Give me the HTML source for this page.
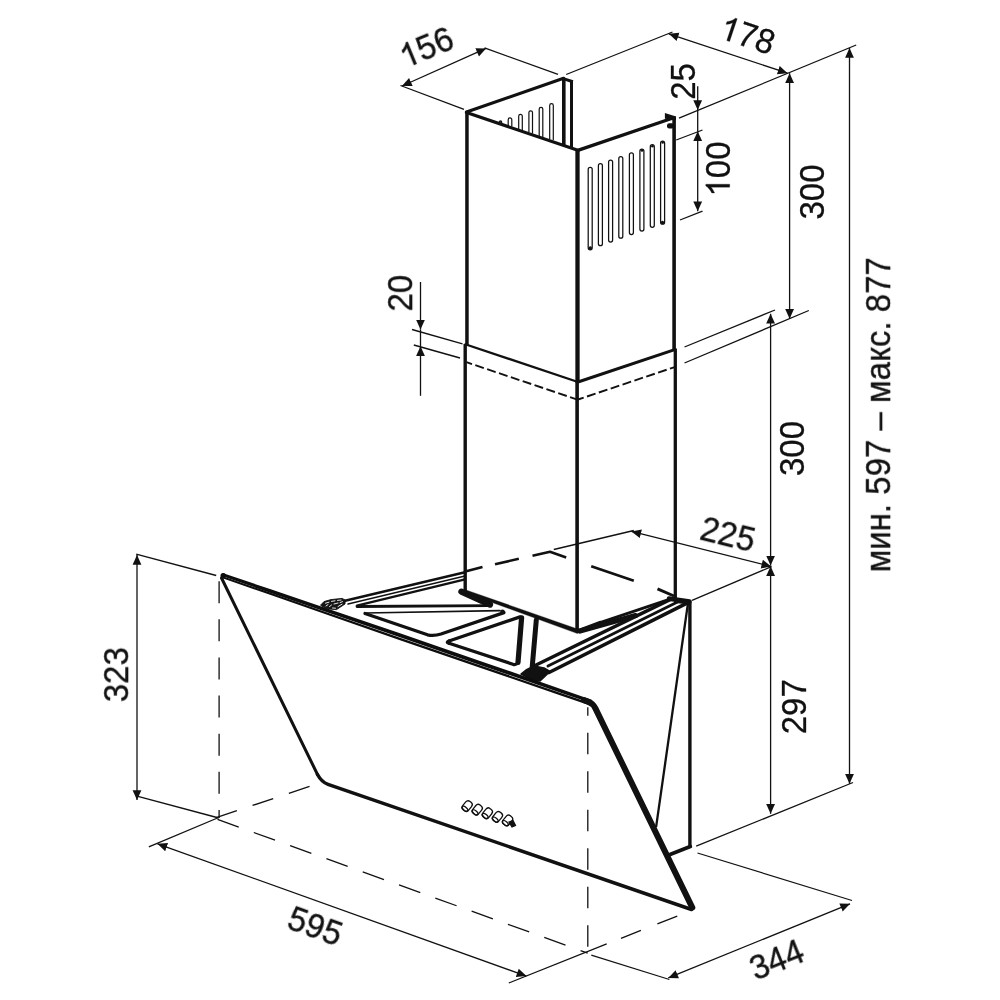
<!DOCTYPE html>
<html><head><meta charset="utf-8">
<style>
html,body{margin:0;padding:0;background:#fff;}
body{width:1000px;height:1000px;overflow:hidden;}
svg{display:block;}
text{font-family:"Liberation Sans",sans-serif;font-size:33px;fill:#111;stroke:#111;stroke-width:0.3px;}
</style></head><body>
<svg width="1000" height="1000" viewBox="0 0 1000 1000">
<defs>
<marker id="ae" markerUnits="userSpaceOnUse" markerWidth="12" markerHeight="12" refX="10" refY="4" viewBox="0 -1 12 12" orient="auto"><path d="M0.3,-0.4 L10,4 L0.3,8.4 Z" fill="#111"/></marker>
<marker id="as" markerUnits="userSpaceOnUse" markerWidth="12" markerHeight="12" refX="10" refY="4" viewBox="0 -1 12 12" orient="auto-start-reverse"><path d="M0.3,-0.4 L10,4 L0.3,8.4 Z" fill="#111"/></marker>
</defs>
<rect width="1000" height="1000" fill="#fff"/>

<!-- ===== thin extension lines ===== -->
<g id="ext" stroke="#111" stroke-width="1.3" fill="none" stroke-linecap="butt">
<path d="M400.5,85.5 L464,109.4"/>
<path d="M484.5,47.9 L558,74.4"/>
<path d="M566.2,74.5 L672.5,32"/>
<path d="M679,118.2 L856.2,45"/>
<path d="M676.2,140 L702.5,130"/>
<path d="M680,220 L702.5,211.2"/>
<path d="M684.5,347 L775,310"/>
<path d="M684.5,363 L808.8,310.5"/>
<path d="M412,329.5 L462.5,343.8"/>
<path d="M413.8,345 L460,358"/>
<path d="M136.2,554.2 L216.2,575.5"/>
<path d="M137,796.2 L218.8,818"/>
<path d="M148.8,846.8 L217.5,818"/>
<path d="M508.8,983 L606.7,943.8"/>
<path d="M591.3,955.2 L669.4,979.5"/>
<path d="M696.2,846.2 L853,782.5"/>
<path d="M697.5,853 L852,900.5"/>
<path d="M692,600.3 L771.5,566.6"/>
<path d="M553.8,549.5 L633.8,530.5"/>
</g>

<!-- ===== dimension lines with arrows ===== -->
<g id="dim" stroke="#111" stroke-width="1.3" fill="none">
<path d="M402,86 L486,48.4" marker-start="url(#as)" marker-end="url(#ae)"/>
<path d="M668.8,33.8 L787.5,73.2" marker-start="url(#as)" marker-end="url(#ae)"/>
<path d="M697.7,86.2 L697.7,110" marker-end="url(#ae)"/>
<path d="M697.7,110 L697.7,131.2"/>
<path d="M697.7,131.2 L697.7,211.2" marker-start="url(#as)" marker-end="url(#ae)"/>
<path d="M789.6,73.2 L789.6,318.8" marker-start="url(#as)" marker-end="url(#ae)"/>
<path d="M770.6,313.8 L770.6,565.5" marker-start="url(#as)" marker-end="url(#ae)"/>
<path d="M770.6,566.2 L770.6,813.8" marker-start="url(#as)" marker-end="url(#ae)"/>
<path d="M849.5,48 L849.5,783.8" marker-start="url(#as)" marker-end="url(#ae)"/>
<path d="M420.5,282 L420.5,329.5" marker-end="url(#ae)"/>
<path d="M420.5,329.5 L420.5,346.2"/>
<path d="M420.5,346.2 L420.5,395.8" marker-start="url(#as)"/>
<path d="M137,555 L137,800" marker-start="url(#as)" marker-end="url(#ae)"/>
<path d="M157.5,843.8 L526.4,976.1" marker-start="url(#as)" marker-end="url(#ae)"/>
<path d="M668.3,977.9 L850,903.8" marker-start="url(#as)" marker-end="url(#ae)"/>
<path d="M631.4,531.4 L771.2,566.5" marker-start="url(#as)" marker-end="url(#ae)"/>
</g>

<!-- ===== thin hidden dashed lines ===== -->
<g id="hid" stroke="#111" stroke-width="1.3" fill="none">
<path d="M219.1,581.2 L219.1,818" stroke-dasharray="22 16.13"/>
<path d="M217.5,819.4 L587.7,953.1" stroke-dasharray="22.6 16"/>
<path d="M216.2,817.6 L310.5,786.1" stroke-dasharray="21.8 16.5"/>
<path d="M587.8,707.2 L587.8,947" stroke-dasharray="21.5 17" stroke-dashoffset="13"/>
<path d="M621,938.3 L678,915.8" stroke-dasharray="21.4 17.7"/>
</g>

<!-- ===== chimney ===== -->
<g id="chimney" stroke="#111" fill="none" stroke-linecap="butt" stroke-linejoin="miter">
<!-- inner back-left slots -->
<g stroke-width="1.2" >
<path d="M549.7,139 L549.7,105.4 A1.8,1.8 0 0 1 553.3,105.4 L553.3,140"/>
<path d="M539.2,136 L539.2,109.1 A1.8,1.8 0 0 1 542.8,109.1 L542.8,137"/>
<path d="M528.9,132 L528.9,112.6 A1.8,1.8 0 0 1 532.5,112.6 L532.5,133.5"/>
<path d="M518.7,129 L518.7,116.2 A1.8,1.8 0 0 1 522.3,116.2 L522.3,130"/>
<path d="M508.2,125.5 L508.2,119.7 A1.8,1.8 0 0 1 511.8,119.7 L511.8,126.5"/>
<path d="M499.5,123 L499.5,122 A1,1 0 0 1 501.5,122 L501.5,123.5" stroke-width="1.5"/>
</g>
<path d="M563.8,78.3 L563.8,145.5" stroke-width="3.6"/>
<path d="M571.5,81 L571.5,148.5" stroke-width="3"/>
<path d="M563.2,78.6 L572.9,81.7" stroke-width="3"/>
<path d="M466.5,112 L563.6,78.3" stroke-width="3.2" stroke-linecap="round"/>
<path d="M466.5,112.5 L577.8,150.3" stroke-width="3.2" stroke-linecap="round"/>
<path d="M577.8,150.3 L673,118" stroke-width="3.4" stroke-linecap="round"/>
<path d="M664.9,113 L676,116.4 L676,120 L664.9,118.8 Z" fill="#111" stroke="none"/>
<rect x="667" y="123.3" width="7" height="5.2" rx="2.2" fill="#111" stroke="none"/>
<path d="M466.95,112 L466.95,345.5" stroke-width="3.5"/>
<path d="M465.2,344 L465.2,592" stroke-width="3.4"/>
<path d="M577.5,150 L577.5,382.5" stroke-width="4.3"/>
<path d="M577.1,381 L577.1,630.5" stroke-width="3.6"/>
<path d="M674.1,116.5 L674.1,350" stroke-width="3.6"/>
<path d="M675.3,348.5 L675.3,598.5" stroke-width="3.3"/>
<!-- joint -->
<path d="M464.5,344 L578,382" stroke-width="2.3"/>
<path d="M578,382 L675.5,349.3" stroke-width="3"/>
<path d="M466.5,362.2 L578,399.8" stroke-width="1.9" stroke-dasharray="9 3.5" stroke-dashoffset="3.2"/>
<path d="M578,399.5 L675.5,366.8" stroke-width="1.9" stroke-dasharray="9 3.5" stroke-dashoffset="3"/>
</g>

<!-- right face slots -->
<g id="slots" stroke="#111" stroke-width="1.25" fill="none">
<rect x="588.2" y="167.3" width="4" height="82.5" rx="2"/>
<rect x="598.4" y="163.7" width="4" height="82" rx="2"/>
<rect x="608.6" y="160" width="4" height="82" rx="2"/>
<rect x="618.8" y="156.5" width="4" height="81.7" rx="2"/>
<rect x="629.4" y="152.8" width="4" height="81.7" rx="2"/>
<rect x="639.9" y="149" width="4" height="82" rx="2"/>
<rect x="650.3" y="144.7" width="4" height="82.6" rx="2"/>
<rect x="660.6" y="141" width="4" height="83.2" rx="2"/>
<circle cx="590.3" cy="248" r="1.7" fill="#111" stroke="none"/>
<circle cx="662.5" cy="222.5" r="1.7" fill="#111" stroke="none"/>
<circle cx="642" cy="150.5" r="1.3" fill="#111" stroke="none"/>
<circle cx="652.4" cy="146.2" r="1.3" fill="#111" stroke="none"/>
<circle cx="662.7" cy="142.5" r="1.3" fill="#111" stroke="none"/>
</g>

<!-- ===== hood body ===== -->
<g id="body" stroke="#111" fill="none" stroke-linecap="round" stroke-linejoin="round">
<!-- hidden dashed outline through chimney -->
<g stroke-width="2.6" stroke-linecap="butt">
<path d="M466.2,571.2 L482.5,567"/>
<path d="M495,564.2 L518.8,558.8"/>
<path d="M532.5,555.8 L550,551.8 L566.2,557.5"/>
<path d="M591.2,566.2 L633.8,580.8"/>
<path d="M657.5,588.8 L674,596" stroke-width="3"/>
</g>
<!-- back edge rails -->
<path d="M345,600.8 L465,572.2" stroke-width="2.6"/>
<path d="M348,604 L465,576" stroke-width="1.4"/>
<path d="M357,605.6 L465,579.4" stroke-width="2.4"/>
<!-- shape A bottom -->
<path d="M357,606.5 L489,605.7" stroke-width="2.8"/>
<!-- shape B -->
<path d="M365,613 L500,610.6" stroke-width="1.6"/>
<path d="M504,612.6 L441,634 Q434,636.2 427.5,634.8 L365,613.5" stroke-width="3.3"/>
<circle cx="502.5" cy="611.8" r="2.3" fill="#111" stroke="none"/>
<!-- shape C -->
<path d="M449,641 L520,616.9" stroke-width="3.3"/>
<path d="M521.6,617.8 L518,662.5" stroke-width="5.2"/>
<path d="M449,643.3 L513,664.3 Q516.5,665.3 518,662.5" stroke-width="3.3"/>
<path d="M449,641 Q445.5,642.2 449,643.3" stroke-width="3.3"/>
<!-- rib -->
<path d="M536.3,620 L532.2,667" stroke-width="5"/>
<!-- chimney bottom edges -->
<path d="M461.4,591.6 L490,604.6" stroke-width="6.2"/>
<path d="M465.01,592.67 L576.76,633.37 L578.24,629.23 L465.99,589.93 Z" fill="#111" stroke-width="0.3"/>
<circle cx="577.5" cy="631.3" r="2.1" fill="#111" stroke="none"/>
<path d="M577.5,631.3 L600,622.6" stroke-width="3.6"/>
<path d="M600,622.6 L674.5,597.6" stroke-width="2.8"/>
<path d="M580,631 L635.5,615.6" stroke-width="5.2"/>
<!-- right rails -->
<path d="M534,666 L670,599.6" stroke-width="3.4"/>
<path d="M548,666 L678,601.8" stroke-width="2.9"/>
<path d="M549,672.5 L688,602.6" stroke-width="3.6"/>
<path d="M521,674 L526,670 L534,666 L544,668 L550,671.5 L540,681 L533,680 Z" fill="#111" stroke-width="1.5"/>
<path d="M669,598.6 L689.5,601.6" stroke-width="4.6"/>
<path d="M676,601 L689,602.5" stroke-width="4"/>
<!-- body right -->
<path d="M689.9,601.5 L689.9,847" stroke-width="3.4" stroke-linecap="butt"/>
<path d="M690.3,846.6 L670,854.6" stroke-width="3.8"/>
<path d="M688,603 L656.2,826.4" stroke-width="2.3"/>
</g>

<!-- ===== glass ===== -->
<g id="glass" stroke="#111" fill="none" stroke-linejoin="round" stroke-linecap="round">
<path d="M222.50,572.88 L270.00,589.11 L330.00,609.44 L400.00,633.17 L480.00,660.89 L560.00,688.67 L591.50,699.68 L591.50,703.28 L560.00,692.47 L480.00,664.94 L400.00,637.32 L330.00,613.34 L270.00,592.71 L222.50,576.28 Z" fill="#0d0d0d" stroke="none"/>
<path d="M222.50,576.18 L270.00,592.61 L330.00,613.44 L400.00,637.77 L480.00,665.29 L560.00,692.77 L591.50,703.58 L591.50,705.88 L560.00,695.17 L480.00,667.79 L400.00,640.37 L330.00,615.84 L270.00,594.81 L222.50,578.28 Z" fill="#0d0d0d" stroke="none"/>
<circle cx="223.2" cy="575.7" r="2.7" fill="#0d0d0d" stroke="none"/>
<path d="M584,700.2 L588,701.6 Q593,703.4 595.4,708.4 L692.3,907.6" stroke-width="6"/>
<path d="M691.5,909.5 L328,784.3 Q321.5,782 317.5,774.5" stroke-width="3.5"/>
<path d="M317.5,774.5 L221.5,578" stroke-width="3"/>
</g>

<!-- hinge -->
<g id="hinge" stroke="#111" stroke-width="0.9" fill="none">
<path d="M320.5,605.2 L324,601.6 L331,599.6 L342,598.4 L345.2,600 L345,604 L336.5,609.6 L326,608.8 Z" fill="#151515" stroke-linejoin="round"/>
<g stroke="#fff" stroke-width="0.9" stroke-linecap="round">
<path d="M325.5,603.2 L329,602.2 M331.5,601.4 L335,600.8 M337.5,600.4 L341,600 M326,606 L328,604.6 M329.5,606.6 L331.5,605 M334,604 L338,603 M340,602.6 L342.5,601.6 M332.5,608 L335.5,608.2 M338,606.5 L342,604.2"/>
</g>
</g>

<!-- buttons -->
<g id="btn" stroke="#111" stroke-width="1.3" fill="#fff">
<g transform="translate(467.2,806) rotate(-51)"><rect x="-5.3" y="-3.7" width="10.6" height="7.4" rx="3"/><ellipse cx="-3.6" cy="0" rx="1.8" ry="3.5" fill="none"/></g>
<g transform="translate(477.3,809.6) rotate(-51)"><rect x="-5.3" y="-3.7" width="10.6" height="7.4" rx="3"/><ellipse cx="-3.6" cy="0" rx="1.8" ry="3.5" fill="none"/></g>
<g transform="translate(487.4,813.2) rotate(-51)"><rect x="-5.3" y="-3.7" width="10.6" height="7.4" rx="3"/><ellipse cx="-3.6" cy="0" rx="1.8" ry="3.5" fill="none"/></g>
<g transform="translate(497.5,816.8) rotate(-51)"><rect x="-5.3" y="-3.7" width="10.6" height="7.4" rx="3"/><ellipse cx="-3.6" cy="0" rx="1.8" ry="3.5" fill="none"/></g>
<g transform="translate(507.6,820.4) rotate(-51)"><rect x="-5.3" y="-3.7" width="10.6" height="7.4" rx="3"/><ellipse cx="-3.6" cy="0" rx="1.8" ry="3.5" fill="none"/></g>
<path d="M509,822 L513,820.5 L515.5,825.5 L512,827 Z" fill="#111"/>
</g>

<!-- ===== text ===== -->
<g id="txt" text-anchor="middle" style="opacity:0.999">
<g transform="translate(430.8,58.1) rotate(-22.4)"><path transform="translate(-27.6,0) scale(0.01625,-0.01625)" d="M763 0H583V1147Q518 1085 412.5 1023T223 930V1104Q374 1175 487 1276T647 1472H763Z" fill="#111" stroke="#111" stroke-width="18"/><text x="-9.2" text-anchor="start" transform="scale(1,1.045)">56</text></g>
<g transform="translate(744,46.3) rotate(18.5)"><path transform="translate(-27.6,0) scale(0.01625,-0.01625)" d="M763 0H583V1147Q518 1085 412.5 1023T223 930V1104Q374 1175 487 1276T647 1472H763Z" fill="#111" stroke="#111" stroke-width="18"/><text x="-9.2" text-anchor="start" transform="scale(1,1.045)">78</text></g>
<text transform="translate(694.8,81.4) rotate(-90) scale(1,1.045)">25</text>
<g transform="translate(729.7,169) rotate(-90)"><path transform="translate(-27.6,0) scale(0.01625,-0.01625)" d="M763 0H583V1147Q518 1085 412.5 1023T223 930V1104Q374 1175 487 1276T647 1472H763Z" fill="#111" stroke="#111" stroke-width="18"/><text x="-9.2" text-anchor="start" transform="scale(1,1.045)">00</text></g>
<text transform="translate(823.8,192) rotate(-90) scale(1,1.045)">300</text>
<text transform="translate(412.5,293.2) rotate(-90) scale(1,1.045)">20</text>
<text transform="translate(803.5,448.5) rotate(-90) scale(1,1.045)">300</text>
<text transform="translate(806,706.7) rotate(-90) scale(1,1.045)">297</text>
<text transform="translate(128.5,674.7) rotate(-90) scale(1,1.045)">323</text>
<text transform="translate(311,937.6) rotate(20) scale(1,1.045)">595</text>
<text transform="translate(781.2,971) rotate(-22) scale(1,1.045)">344</text>
<text transform="translate(725,546) rotate(14) scale(1,1.045)">225</text>
<text transform="translate(890.5,414.8) rotate(-90) scale(1,1.045)">мин. 597 – макс. 877</text>
</g>
</svg>
</body></html>
